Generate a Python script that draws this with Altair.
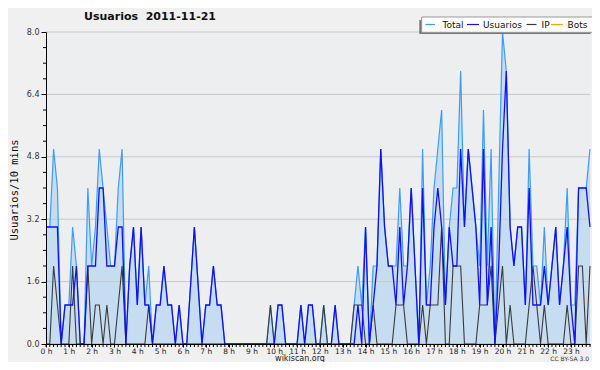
import altair as alt
import pandas as pd

# ---- data (one value per 10-minute slot, 144 slots) ----
usuarios = [
    3, 3, 3, 3, 0, 1, 1, 1, 2, 0,
    0, 2, 2, 2, 4, 4, 2, 2, 2, 3,
    3, 0, 2, 3, 1, 3, 1, 1, 0, 1,
    1, 2, 1, 1, 0, 1, 0, 0, 1.5, 3,
    1.5, 0, 1, 1, 2, 1, 1, 0, 0, 0,
    0, 0, 0, 0, 0, 0, 0, 0, 0, 0,
    0, 1, 1, 0, 0, 0, 0, 1, 0, 1,
    1, 0, 0, 0, 0, 0, 1, 0, 0, 0,
    0, 0, 1, 0, 3, 0, 1, 2, 5, 3,
    2, 2, 1, 3, 1, 2, 4, 2, 0, 4,
    1, 1, 3, 4, 3, 1, 3, 2, 2, 5,
    3, 5, 4, 3, 1, 5, 1, 3, 0, 2,
    5, 7, 3, 2, 3, 3, 1, 4, 1, 1,
    1, 2, 1, 2, 3, 1, 2, 3, 1, 0,
    4, 4, 4, 3,
]
ip = [
    0, 0, 2, 1, 0, 0, 0, 2, 0, 0,
    0, 2, 0, 1, 1, 0, 1, 0, 0, 1,
    2, 0, 0, 0, 0, 0, 0, 1, 0, 0,
    0, 0, 0, 0, 0, 0, 0, 0, 0, 0,
    0, 0, 0, 0, 0, 0, 0, 0, 0, 0,
    0, 0, 0, 0, 0, 0, 0, 0, 0, 1,
    0, 0, 0, 0, 0, 0, 0, 0, 0, 0,
    0, 0, 0, 1, 0, 0, 0, 0, 0, 0,
    0, 1, 1, 1, 0, 0, 1, 0, 0, 0,
    0, 0, 1, 1, 1, 0, 0, 0, 0, 1,
    0, 1, 1, 1, 3, 0, 0, 2, 2, 2,
    0, 0, 0, 0, 1, 1, 1, 2, 0, 1,
    2, 0, 1, 0, 0, 0, 0, 1, 2, 1,
    0, 1, 0, 0, 0, 0, 0, 1, 0, 0,
    2, 2, 0, 2,
]
total = [
    3, 3, 5, 4, 0, 1, 1, 3, 2, 0,
    0, 4, 2, 3, 5, 4, 3, 2, 2, 4,
    5, 0, 2, 3, 1, 3, 1, 2, 0, 1,
    1, 2, 1, 1, 0, 1, 0, 0, 1.5, 3,
    1.5, 0, 1, 1, 2, 1, 1, 0, 0, 0,
    0, 0, 0, 0, 0, 0, 0, 0, 0, 1,
    0, 1, 1, 0, 0, 0, 0, 1, 0, 1,
    1, 0, 0, 1, 0, 0, 1, 0, 0, 0,
    0, 1, 2, 1, 3, 0, 2, 2, 5, 3,
    2, 2, 2, 4, 2, 2, 4, 2, 0, 5,
    1, 2, 4, 5, 6, 1, 3, 4, 4, 7,
    3, 5, 4, 3, 2, 6, 2, 5, 0, 4,
    8, 7, 3, 2, 3, 3, 1, 5, 2, 2,
    1, 3, 1, 2, 3, 1, 2, 4, 1, 1,
    4, 4, 4, 5,
]
bots = [0] * 144

slots = [i / 6 for i in range(144)]          # hour of each 10-min slot
hour_ticks = list(range(24))
y_ticks = [0.0, 1.6, 3.2, 4.8, 6.4, 8.0]
y_minor = [0.4, 0.8, 1.2, 2.0, 2.4, 2.8, 3.6, 4.0, 4.4, 5.2, 5.6, 6.0, 6.8, 7.2, 7.6]

legend_names = ["Total", "Usuarios", "IP", "Bots"]

df = pd.DataFrame({"t": slots, "Total": total, "Usuarios": usuarios,
                   "IP": ip, "Bots": bots})

W, H = 544, 312
XDOM = [0, 143 / 6]
xscale = alt.Scale(domain=XDOM, nice=False, zero=False)
yscale = alt.Scale(domain=[0, 8], nice=False)

C_TOTAL = "#3d9df5"
C_FILL = "#c6dcf0"
C_USERS = "#1010f5"
C_IP = "#3a3a3a"
C_BOTS = "#ffa500"

xaxis = alt.Axis(values=hour_ticks, labelExpr="datum.value + ' h'", title=None,
                 grid=False, tickSize=3, labelFontSize=7.5, labelPadding=0,
                 labelFlush=False, labelOverlap=False, labelBound=False,
                 domainColor="black", tickColor="black", labelColor="#222",
                 labelFont="DejaVu Sans", zindex=1)
yaxis = alt.Axis(values=y_ticks, format=".1f", title=None, grid=False,
                 tickSize=5, labelFontSize=8, labelFont="DejaVu Sans",
                 labelPadding=2, domainColor="black", tickColor="black",
                 labelColor="#333", zindex=1)

X = alt.X("t:Q", scale=xscale, axis=xaxis)
base = alt.Chart(df)
area = base.mark_area(color=C_FILL, opacity=1).encode(
    x=X, y=alt.Y("Total:Q", scale=yscale, axis=yaxis))

grid = alt.Chart(pd.DataFrame({"g": y_ticks})).mark_rule(
    color="#c8c8c8", strokeWidth=1).encode(
    y=alt.Y("g:Q", scale=yscale, axis=yaxis), x=alt.value(0), x2=alt.value(W))

def line(field, color, width):
    return base.mark_line(color=color, strokeWidth=width).encode(
        x=X, y=alt.Y(f"{field}:Q", scale=yscale, axis=yaxis))

l_total = line("Total", C_TOTAL, 1.2)
l_ip = line("IP", C_IP, 1.1)
l_users = line("Usuarios", C_USERS, 1.3)
l_bots = line("Bots", C_BOTS, 1.1)

one = pd.DataFrame({"a": [0]})

xminor = alt.Chart(pd.DataFrame({"t": slots})).mark_rule(
    color="black", strokeWidth=1).encode(
    x=X, y=alt.value(H), y2=alt.value(H + 3))
yminor = alt.Chart(pd.DataFrame({"g": y_minor})).mark_rule(
    color="black", strokeWidth=1).encode(
    y=alt.Y("g:Q", scale=yscale, axis=yaxis), x=alt.value(-3), x2=alt.value(0))

def txt(text, x, y, size, **kw):
    return alt.Chart(one).mark_text(text=text, fontSize=size, **kw).encode(
        x=alt.value(x), y=alt.value(y))

title = txt("Usuarios\u00a0 2011-11-21", 104, -15, 11, font="DejaVu Sans",
            fontWeight="bold", color="#111", baseline="middle")
ytitle = txt("Usuarios/10 mins", -31, 158, 10.5, font="DejaVu Sans Mono",
             angle=270, color="#111", baseline="middle")
site = txt("wikiscan.org", 254, 329, 8, font="DejaVu Sans", color="#222",
           baseline="alphabetic")
lic = txt("CC BY-SA 3.0", 543, 329, 6, font="DejaVu Sans", color="#333",
          align="right", baseline="alphabetic")

# legend box
shadow = alt.Chart(one).mark_rect(color="#777").encode(
    x=alt.value(373.3), x2=alt.value(544.7), y=alt.value(-12), y2=alt.value(2))
box = alt.Chart(one).mark_rect(fill="white", stroke="#999", strokeWidth=1).encode(
    x=alt.value(375.7), x2=alt.value(547.3), y=alt.value(-15), y2=alt.value(0.3))

LY = -7.5
leg = []
for name, color, lx0, lx1, tx in [
    (legend_names[0], C_TOTAL, 379.5, 389, 396.5),
    (legend_names[1], C_USERS, 421, 433, 437),
    (legend_names[2], C_IP, 480.5, 490.5, 495.5),
    (legend_names[3], C_BOTS, 505, 517, 521.5),
]:
    leg.append(alt.Chart(one).mark_rule(color=color, strokeWidth=1.2).encode(
        x=alt.value(lx0), x2=alt.value(lx1), y=alt.value(LY)))
    leg.append(txt(name, tx, LY, 9, font="DejaVu Sans", color="#111",
                   align="left", baseline="middle"))

chart = alt.layer(
    area, grid, l_bots, l_total, l_ip, l_users, xminor, yminor,
    title, ytitle, site, lic, shadow, box, *leg
).properties(
    width=W, height=H,
    autosize=alt.AutoSizeParams(type="none"),
    padding={"left": 38, "top": 24, "right": 2, "bottom": 18},
    background="#f0f0f0",
).configure_view(stroke=None, fill="#eceef0")

chart.save("out.html", embed_options={"renderer": "svg", "actions": False})
